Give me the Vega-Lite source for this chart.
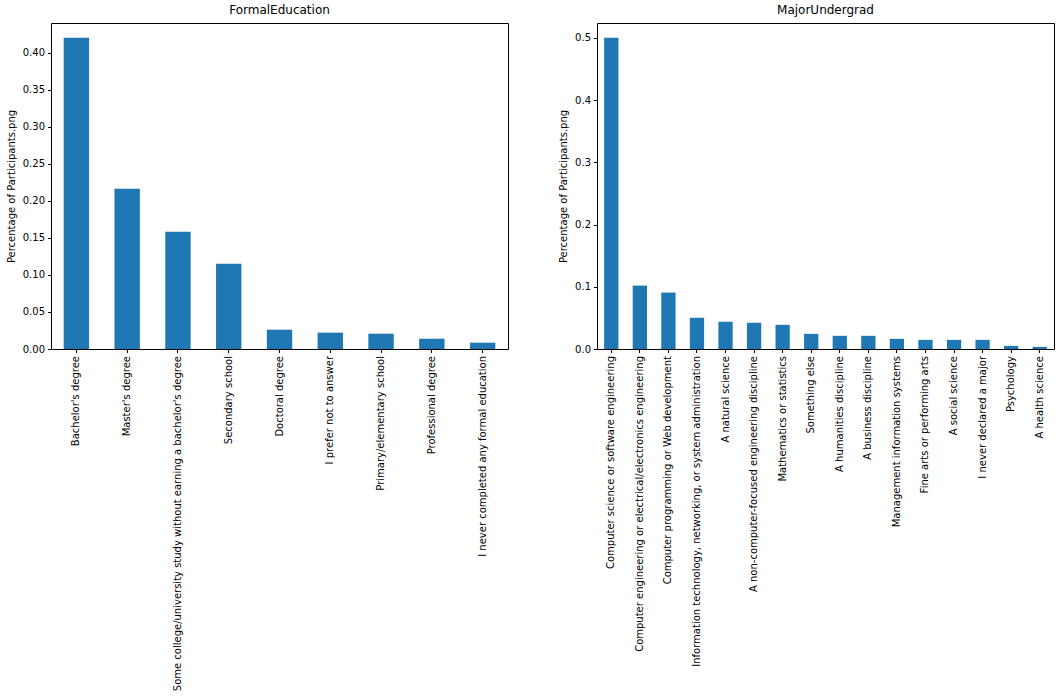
{
  "$schema": "https://vega.github.io/schema/vega-lite/v6.json",
  "padding": {"left": 5, "top": 3, "right": 5, "bottom": 5},
  "background": "white",
  "datasets": {
    "edu": [
      {"category": "Bachelor's degree", "value": 0.4207},
      {"category": "Master's degree", "value": 0.2166},
      {"category": "Some college/university study without earning a bachelor's degree", "value": 0.1585},
      {"category": "Secondary school", "value": 0.1153},
      {"category": "Doctoral degree", "value": 0.0261},
      {"category": "I prefer not to answer", "value": 0.0221},
      {"category": "Primary/elementary school", "value": 0.0207},
      {"category": "Professional degree", "value": 0.0139},
      {"category": "I never completed any formal education", "value": 0.0085}
    ],
    "major": [
      {"category": "Computer science or software engineering", "value": 0.5003},
      {"category": "Computer engineering or electrical/electronics engineering", "value": 0.1019},
      {"category": "Computer programming or Web development", "value": 0.0907},
      {"category": "Information technology, networking, or system administration", "value": 0.0502},
      {"category": "A natural science", "value": 0.0438},
      {"category": "A non-computer-focused engineering discipline", "value": 0.0422},
      {"category": "Mathematics or statistics", "value": 0.0389},
      {"category": "Something else", "value": 0.0244},
      {"category": "A humanities discipline", "value": 0.0212},
      {"category": "A business discipline", "value": 0.0212},
      {"category": "Management information systems", "value": 0.0163},
      {"category": "Fine arts or performing arts", "value": 0.0147},
      {"category": "A social science", "value": 0.0147},
      {"category": "I never declared a major", "value": 0.0147},
      {"category": "Psychology", "value": 0.0050},
      {"category": "A health science", "value": 0.0034}
    ]
  },
  "config": {
    "font": "DejaVu Sans",
    "view": {"stroke": "#000000", "strokeWidth": 1},
    "axis": {
      "domain": false,
      "grid": false,
      "labelFont": "DejaVu Sans",
      "labelFontSize": 10,
      "labelColor": "#000000",
      "tickColor": "#000000",
      "tickSize": 3.5,
      "tickWidth": 1,
      "labelPadding": 3,
      "titleFont": "DejaVu Sans",
      "titleFontSize": 10,
      "titleFontWeight": "normal",
      "titleColor": "#000000"
    },
    "title": {"font": "DejaVu Sans", "fontSize": 12, "fontWeight": "normal", "color": "#000000", "offset": 6}
  },
  "spacing": 49,
  "hconcat": [
    {
      "title": "FormalEducation",
      "width": 457,
      "height": 326,
      "data": {"name": "edu"},
      "mark": {"type": "bar", "color": "#1f77b4"},
      "encoding": {
        "x": {
          "field": "category", "type": "nominal", "sort": null,
          "scale": {"paddingInner": 0.5, "paddingOuter": 0.25},
          "axis": {"title": null, "labelAngle": -90, "labelLimit": 500}
        },
        "y": {
          "field": "value", "type": "quantitative",
          "scale": {"domain": [0, 0.4405], "nice": false},
          "axis": {"title": "Percentage of Participants.png", "values": [0, 0.05, 0.1, 0.15, 0.2, 0.25, 0.3, 0.35, 0.4], "format": ".2f", "titlePadding": 6}
        }
      }
    },
    {
      "title": "MajorUndergrad",
      "width": 457,
      "height": 326,
      "data": {"name": "major"},
      "mark": {"type": "bar", "color": "#1f77b4"},
      "encoding": {
        "x": {
          "field": "category", "type": "nominal", "sort": null,
          "scale": {"paddingInner": 0.5, "paddingOuter": 0.25},
          "axis": {"title": null, "labelAngle": -90, "labelLimit": 500}
        },
        "y": {
          "field": "value", "type": "quantitative",
          "scale": {"domain": [0, 0.5241], "nice": false},
          "axis": {"title": "Percentage of Participants.png", "values": [0, 0.1, 0.2, 0.3, 0.4, 0.5], "format": ".1f", "titlePadding": 6}
        }
      }
    }
  ]
}
